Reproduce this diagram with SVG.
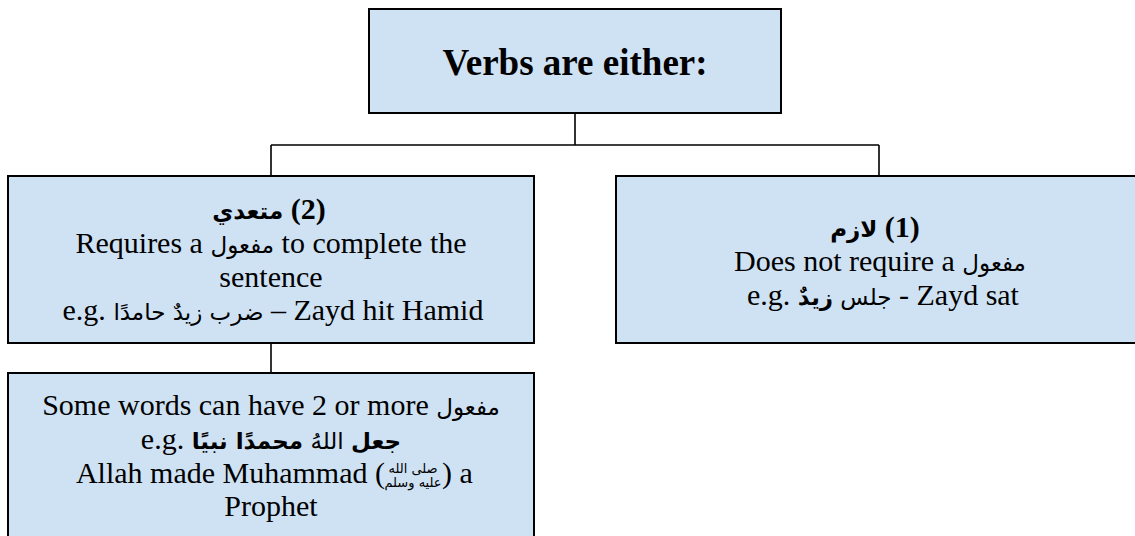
<svg xmlns="http://www.w3.org/2000/svg" width="1135" height="536" viewBox="0 0 1135 536">
  <style>
    .box { fill: #cfe2f3; stroke: #000; stroke-width: 2; }
    .wire { fill: none; stroke: #000; stroke-width: 1.6; }
    .t { font-family: "Liberation Serif", "DejaVu Sans", serif; font-size: 30px; text-anchor: middle; fill: #000; }
    .t.end { text-anchor: end; }
    .t.start { text-anchor: start; }
    .head { font-size: 37px; font-weight: bold; }
    .b { font-weight: bold; }
    .ar { font-family: "DejaVu Sans", sans-serif; font-size: 23px; }
    .sal { font-family: "DejaVu Sans", sans-serif; font-size: 13px; text-anchor: middle; fill: #000; }
  </style>

  <!-- tree connectors -->
  <g id="connectors">
    <path class="wire" d="M575 113 V145 M271 145 H879 M271 145 V176 M879 145 V176"/>
    <path class="wire" d="M271 343 V373"/>
  </g>

  <!-- root -->
  <g id="root">
    <rect class="box" x="369" y="9" width="412" height="104"/>
    <text class="t head" x="575" y="75">Verbs are either:</text>
  </g>

  <!-- transitive verbs -->
  <g id="mutaaddi">
    <rect class="box" x="8" y="176" width="526" height="167"/>
    <text class="t b" x="269" y="219">&#x200F;(2) <tspan class="ar b">متعدي</tspan></text>
    <text class="t" x="271" y="252.8">Requires a <tspan class="ar">مفعول</tspan> to complete the</text>
    <text class="t" x="271" y="286.6">sentence</text>
    <text class="t" x="273" y="320.4">e.g. <tspan class="ar">ضرب زيدٌ حامدًا</tspan> – Zayd hit Hamid</text>
  </g>

  <!-- intransitive verbs -->
  <g id="lazim">
    <rect class="box" x="616" y="176" width="526" height="167"/>
    <text class="t b" x="875" y="237">&#x200F;(1) <tspan class="ar b">لازم</tspan></text>
    <text class="t" x="880" y="270.7">Does not require a <tspan class="ar">مفعول</tspan></text>
    <text class="t" x="883" y="304.5">e.g. <tspan class="ar">جلس <tspan class="b">زيدٌ</tspan></tspan>  - Zayd sat</text>
  </g>

  <!-- multiple objects -->
  <g id="multiple">
    <rect class="box" x="8" y="373" width="526" height="200"/>
    <text class="t" x="271" y="415">Some words can have 2 or more <tspan class="ar">مفعول</tspan></text>
    <text class="t" x="271" y="448.7">e.g. <tspan class="ar"><tspan class="b">جعل</tspan> اللهُ <tspan class="b">محمدًا نبيًا</tspan></tspan></text>
    <text class="t end" x="385" y="482.5">Allah made Muhammad (</text>
    <text class="sal" x="413" y="473">صلى الله</text>
    <text class="sal" x="413" y="487">عليه وسلم</text>
    <text class="t start" x="442" y="482.5">) a</text>
    <text class="t" x="271" y="516.3">Prophet</text>
  </g>
</svg>
